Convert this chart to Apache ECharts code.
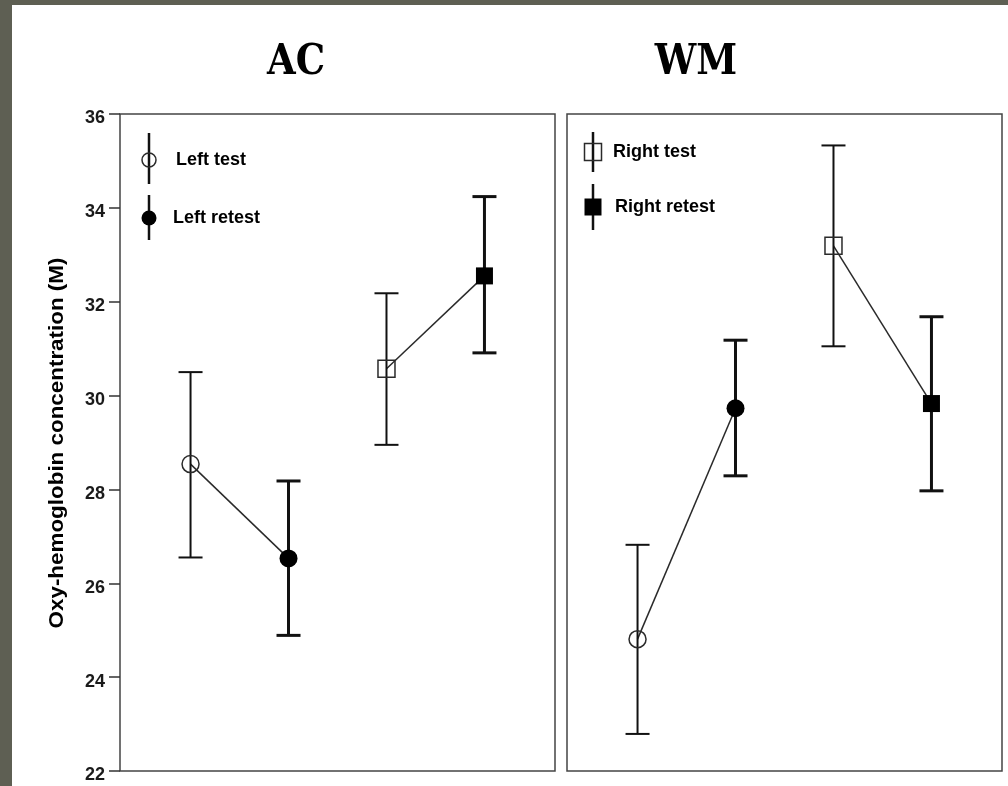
<!DOCTYPE html>
<html>
<head>
<meta charset="utf-8">
<script src="https://cdn.jsdelivr.net/npm/echarts@6/dist/echarts.min.js"></script>
<style>
  html, body { margin: 0; padding: 0; background: #ffffff; }
  #chart { width: 1008px; height: 786px; }
</style>
</head>
<body>
<div id="chart"></div>
<script>
// Conditions shown in each panel (x positions 1..4)
const groups = ['Left test', 'Left retest', 'Right test', 'Right retest'];
const panels = ['AC', 'WM'];

// AC panel: means and error-bar limits
const acMean = [28.54, 26.53, 30.57, 32.55];
const acLow  = [26.55, 24.89, 28.95, 30.91];
const acHigh = [30.50, 28.18, 32.18, 34.24];

// WM panel: means and error-bar limits
const wmMean = [24.81, 29.73, 33.19, 29.83];
const wmLow  = [22.79, 28.29, 31.05, 27.97];
const wmHigh = [26.82, 31.18, 35.33, 31.68];

// Y axis tick values
const yTicks = [22, 24, 26, 28, 30, 32, 34, 36];

const yAxisTitle = 'Oxy-hemoglobin concentration (M)';

const INK = '#111111';
const FRAME = '#444444';
const SANS = '"Liberation Sans", Arial, sans-serif';

// marker look per group: open/filled circle, open/filled square
const markerStyle = [
  { symbol: 'circle', size: 17, filled: false },
  { symbol: 'circle', size: 18, filled: true },
  { symbol: 'rect',   size: 17, filled: false },
  { symbol: 'rect',   size: 17, filled: true }
];

function panelSeries(gridIndex, mean, low, high) {
  const series = [];
  // connecting lines: test -> retest for each side
  [[0, 1], [2, 3]].forEach(function (pair) {
    series.push({
      type: 'line',
      xAxisIndex: gridIndex,
      yAxisIndex: gridIndex,
      data: pair.map(function (i) { return [i + 1, mean[i]]; }),
      symbol: 'none',
      lineStyle: { color: '#2a2a2a', width: 1.5 },
      silent: true,
      z: 2
    });
  });
  // error bars
  series.push({
    type: 'custom',
    xAxisIndex: gridIndex,
    yAxisIndex: gridIndex,
    data: groups.map(function (g, i) { return [i + 1, low[i], high[i]]; }),
    renderItem: function (params, api) {
      const x = api.value(0);
      const pLo = api.coord([x, api.value(1)]);
      const pHi = api.coord([x, api.value(2)]);
      const retest = params.dataIndex % 2 === 1;
      const lw = retest ? 3 : 2;
      const half = 12;
      const style = { stroke: INK, lineWidth: lw };
      return {
        type: 'group',
        children: [
          { type: 'line', shape: { x1: pLo[0], y1: pLo[1], x2: pHi[0], y2: pHi[1] }, style: style },
          { type: 'line', shape: { x1: pHi[0] - half, y1: pHi[1], x2: pHi[0] + half, y2: pHi[1] }, style: style },
          { type: 'line', shape: { x1: pLo[0] - half, y1: pLo[1], x2: pLo[0] + half, y2: pLo[1] }, style: style }
        ]
      };
    },
    silent: true,
    z: 3
  });
  // markers
  groups.forEach(function (g, i) {
    const m = markerStyle[i];
    series.push({
      type: 'scatter',
      name: g,
      xAxisIndex: gridIndex,
      yAxisIndex: gridIndex,
      data: [[i + 1, mean[i]]],
      symbol: m.symbol,
      symbolSize: m.size,
      itemStyle: m.filled
        ? { color: '#000000', opacity: 1 }
        : { color: 'rgba(255,255,255,0)', borderColor: '#2a2a2a', borderWidth: 1.5, opacity: 1 },
      silent: true,
      z: 4
    });
  });
  return series;
}

// legend entry: marker with a vertical line through it, plus label
function legendEntry(x, y, lineTop, lineBottom, m, label, textX) {
  const shape = m.symbol === 'circle'
    ? { type: 'circle', shape: { cx: x, cy: y, r: m.size / 2 - 1.5 } }
    : { type: 'rect', shape: { x: x - m.size / 2, y: y - m.size / 2, width: m.size, height: m.size } };
  shape.style = m.filled
    ? { fill: '#000000' }
    : { fill: 'rgba(255,255,255,0)', stroke: '#2a2a2a', lineWidth: 1.5 };
  return [
    { type: 'line', shape: { x1: x, y1: lineTop, x2: x, y2: lineBottom }, style: { stroke: INK, lineWidth: 2.5 }, z: 10 },
    Object.assign(shape, { z: 11 }),
    { type: 'text', x: textX, y: y, style: { text: label, font: 'bold 18px ' + SANS, fill: '#000000', textVerticalAlign: 'middle' }, z: 11 }
  ];
}

const gridBase = { top: 114, width: 435, height: 657, show: true, backgroundColor: '#ffffff', borderColor: FRAME, borderWidth: 1.5 };

const titleFont = 'bold 42px "DejaVu Serif", serif';

const option = {
  backgroundColor: '#ffffff',
  animation: false,
  grid: [
    Object.assign({ left: 120 }, gridBase),
    Object.assign({ left: 567 }, gridBase)
  ],
  xAxis: [0, 1].map(function (i) {
    return {
      type: 'value', gridIndex: i, min: 0.28, max: 4.72,
      show: false, splitLine: { show: false }
    };
  }),
  yAxis: [0, 1].map(function (i) {
    return {
      type: 'value', gridIndex: i,
      min: yTicks[0], max: yTicks[yTicks.length - 1], interval: 2,
      axisLine: { show: false },
      axisTick: { show: i === 0, length: 11, lineStyle: { color: '#333333', width: 1.5 } },
      axisLabel: {
        show: i === 0, color: '#1a1a1a', margin: 15,
        formatter: '{v|{value}}',
        rich: { v: { fontFamily: SANS, fontWeight: 'bold', fontSize: 18, padding: [9, 0, 0, 0] } }
      },
      splitLine: { show: false }
    };
  }),
  graphic: [
    // page frame strips
    { type: 'rect', shape: { x: 0, y: 0, width: 1008, height: 5 }, style: { fill: '#5e5f53' }, z: 20 },
    { type: 'rect', shape: { x: 0, y: 0, width: 12, height: 786 }, style: { fill: '#5e5f53' }, z: 20 },
    // panel titles
    { type: 'text', x: 296, y: 63, scaleX: 0.88, style: { text: panels[0], font: titleFont, fill: '#000000', textAlign: 'center', textVerticalAlign: 'middle' }, z: 10 },
    { type: 'text', x: 696, y: 63, scaleX: 0.88, style: { text: panels[1], font: titleFont, fill: '#000000', textAlign: 'center', textVerticalAlign: 'middle' }, z: 10 },
    // y axis title
    { type: 'text', x: 57, y: 443, rotation: Math.PI / 2, scaleX: 1.12,
      style: { text: yAxisTitle, font: 'bold 20px ' + SANS, fill: '#000000', textAlign: 'center', textVerticalAlign: 'middle' }, z: 10 }
  ]
    .concat(legendEntry(149, 160, 133, 184, markerStyle[0], groups[0], 176))
    .concat(legendEntry(149, 218, 195, 240, markerStyle[1], groups[1], 173))
    .concat(legendEntry(593, 152, 132, 172, markerStyle[2], groups[2], 613))
    .concat(legendEntry(593, 207, 184, 230, markerStyle[3], groups[3], 615)),
  series: panelSeries(0, acMean, acLow, acHigh).concat(panelSeries(1, wmMean, wmLow, wmHigh))
};

const chart = echarts.init(document.getElementById('chart'), null, { renderer: 'canvas' });
chart.setOption(option);
</script>
</body>
</html>
